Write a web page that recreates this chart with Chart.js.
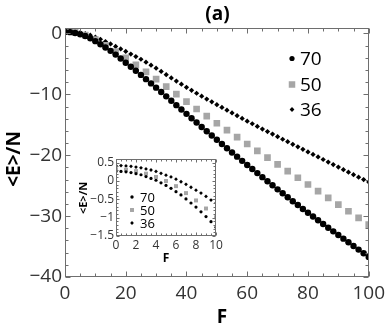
<!DOCTYPE html>
<html><head><meta charset="utf-8">
<script src="https://cdn.jsdelivr.net/npm/chart.js@4.4.1/dist/chart.umd.min.js"></script>
<style>
html,body{margin:0;padding:0;background:#fff;}
#wrap{position:relative;width:390px;height:336px;overflow:hidden;}
#main{position:absolute;left:0;top:0;}
#inset{position:absolute;left:70px;top:148px;}
</style></head><body>
<div id="wrap">
<canvas id="main" width="390" height="336"></canvas>
<canvas id="inset" width="156" height="125"></canvas>
</div>
<script>
// ---------------- data (main panel) ----------------
const seriesNames = ['70', '50', '36'];
const F_dense = [0,1.67,3.33,5,6.67,8.33,10,11.67,13.33,15,16.67,18.33,20,21.67,23.33,25,26.67,28.33,30,31.67,33.33,35,36.67,38.33,40,41.67,43.33,45,46.67,48.33,50,51.67,53.33,55,56.67,58.33,60,61.67,63.33,65,66.67,68.33,70,71.67,73.33,75,76.67,78.33,80,81.67,83.33,85,86.67,88.33,90,91.67,93.33,95,96.67,98.33,100];
const E_70 = [0.26,0.22,0.09,-0.12,-0.42,-0.80,-1.26,-1.77,-2.30,-2.85,-3.47,-4.12,-4.80,-5.47,-6.13,-6.80,-7.50,-8.20,-8.90,-9.62,-10.33,-11.05,-11.77,-12.48,-13.20,-13.92,-14.63,-15.35,-16.05,-16.75,-17.45,-18.15,-18.85,-19.55,-20.23,-20.92,-21.60,-22.27,-22.93,-23.60,-24.27,-24.93,-25.60,-26.25,-26.90,-27.55,-28.18,-28.82,-29.45,-30.07,-30.68,-31.30,-31.90,-32.50,-33.10,-33.70,-34.30,-34.90,-35.50,-36.10,-36.70];
const E_36 = [0.42,0.39,0.31,0.16,-0.03,-0.28,-0.60,-0.95,-1.33,-1.72,-2.12,-2.53,-2.95,-3.38,-3.80,-4.23,-4.72,-5.21,-5.70,-6.23,-6.77,-7.30,-7.82,-8.33,-8.85,-9.33,-9.82,-10.30,-10.77,-11.23,-11.70,-12.15,-12.60,-13.05,-13.50,-13.95,-14.40,-14.83,-15.27,-15.70,-16.12,-16.53,-16.95,-17.37,-17.78,-18.20,-18.62,-19.03,-19.45,-19.87,-20.28,-20.70,-21.12,-21.53,-21.95,-22.37,-22.78,-23.20,-23.60,-24.00,-24.40];
const F_sparse = [0,3.33,6.67,10,13.33,16.67,20,23.33,26.67,30,33.33,36.67,40,43.33,46.67,50,53.33,56.67,60,63.33,66.67,70,73.33,76.67,80,83.33,86.67,90,93.33,96.67,100];
const E_50 = [0.32,0.18,-0.26,-0.99,-1.95,-2.97,-4.00,-5.13,-6.30,-7.50,-8.73,-9.97,-11.20,-12.40,-13.58,-14.75,-15.88,-17.02,-18.15,-19.28,-20.40,-21.50,-22.60,-23.70,-24.80,-25.90,-27.00,-28.10,-29.20,-30.30,-31.40];
const xTickLabels = [0,20,40,60,80,100];
const yTickLabels = [0,-10,-20,-30,-40];

// ---------------- data (inset) ----------------
const Fi_fine = [0,0.5,1,1.5,2,2.5,3,3.5,4,4.5,5,5.5,6,6.5,7,7.5,8,8.5,9,9.5,10];
const Ei_70 = [0.26,0.26,0.25,0.23,0.20,0.17,0.12,0.07,0.02,-0.05,-0.12,-0.20,-0.29,-0.38,-0.49,-0.60,-0.71,-0.84,-0.97,-1.11,-1.26];
const Ei_36 = [0.42,0.42,0.41,0.40,0.38,0.36,0.33,0.30,0.26,0.21,0.16,0.11,0.05,-0.02,-0.09,-0.17,-0.25,-0.33,-0.42,-0.52,-0.60];
const Fi_coarse = [0,1,2,3,4,5,6,7,8,9,10];
const Ei_50 = [0.32,0.31,0.27,0.20,0.11,0.00,-0.14,-0.33,-0.53,-0.75,-0.99];
const xiTickLabels = [0,2,4,6,8,10];
const yiTickLabels = [0.5,0,-0.5,-1,-1.5];

// ---------------- styling ----------------
const BLACK = '#000000', GRAY = '#a6a6a6', FRAME = '#6e6e6e', TXT = '#333333';
const FONT = "'Open Sans', 'DejaVu Sans', sans-serif";
const fmt = v => (v < 0 ? '\u2212' + String(Math.abs(v)) : String(v));
const pts = (xs, ys) => xs.map((x, i) => ({x: x, y: ys[i]}));

function drawMarker(ctx, style, x, y, r, color) {
  ctx.fillStyle = color;
  ctx.beginPath();
  if (style === 'circle') ctx.arc(x, y, r, 0, Math.PI * 2);
  else if (style === 'rect') { const s = r * Math.SQRT1_2; ctx.rect(x - s, y - s, 2 * s, 2 * s); }
  else { ctx.moveTo(x - r, y); ctx.lineTo(x, y - r); ctx.lineTo(x + r, y); ctx.lineTo(x, y + r); ctx.closePath(); }
  ctx.fill();
}

function framePlugin(cfg) {
  return {
    id: 'frame_' + cfg.name,
    afterDraw(chart) {
      const {ctx, chartArea: a, scales: {x, y}} = chart;
      ctx.save();
      ctx.strokeStyle = FRAME; ctx.lineWidth = 1;
      const L = Math.round(a.left) + 0.5, R = Math.round(a.right) - 0.5;
      const T = Math.round(a.top) + 0.5, B = Math.round(a.bottom) - 0.5;
      ctx.strokeRect(L, T, R - L, B - T);
      ctx.beginPath();
      for (let i = 0; i <= cfg.xN; i++) {
        const v = cfg.x0 + i * cfg.xStep;
        const len = (i % cfg.xMajEvery === 0) ? cfg.maj : cfg.min;
        const px = Math.round(x.getPixelForValue(v)) + 0.5;
        ctx.moveTo(px, B); ctx.lineTo(px, B - len);
        ctx.moveTo(px, T); ctx.lineTo(px, T + len);
      }
      for (let i = 0; i <= cfg.yN; i++) {
        const v = cfg.y0 + i * cfg.yStep;
        const len = (i % cfg.yMajEvery === 0) ? cfg.maj : cfg.min;
        const py = Math.round(y.getPixelForValue(v)) + 0.5;
        ctx.moveTo(L, py); ctx.lineTo(L + len, py);
        ctx.moveTo(R, py); ctx.lineTo(R - len, py);
      }
      ctx.stroke();
      // texts & legend
      ctx.fillStyle = BLACK;
      cfg.texts.forEach(t => {
        ctx.save();
        ctx.font = t.font;
        ctx.textAlign = 'center'; ctx.textBaseline = 'middle';
        ctx.translate(t.x, t.y);
        if (t.rot) ctx.rotate(t.rot);
        ctx.fillStyle = BLACK;
        ctx.fillText(t.s, 0, 0);
        ctx.restore();
      });
      cfg.legend.items.forEach((it, k) => {
        const yy = cfg.legend.y[k];
        drawMarker(ctx, it.style, cfg.legend.mx, yy, it.r, it.color);
        ctx.font = cfg.legend.font; ctx.fillStyle = BLACK;
        ctx.textAlign = 'left'; ctx.textBaseline = 'middle';
        ctx.fillText(seriesNames[k], cfg.legend.tx, yy + 1);
      });
      ctx.restore();
    }
  };
}

function scaleOpts(min, max, labels, fit, fontSize, pad) {
  return {
    type: 'linear', min: min, max: max,
    afterBuildTicks: s => { s.ticks = labels.map(v => ({value: v})); },
    afterFit: fit,
    grid: {display: false, drawTicks: false},
    border: {display: false},
    ticks: {autoSkip: false, maxRotation: 0, padding: pad, color: TXT,
            font: {family: FONT, size: fontSize}, callback: v => fmt(v)}
  };
}

// ---------------- main chart ----------------
new Chart(document.getElementById('main'), {
  type: 'scatter',
  data: {datasets: [
    {label: seriesNames[0], data: pts(F_dense, E_70), pointStyle: 'circle', pointRadius: 3.2, backgroundColor: BLACK, pointBorderWidth: 0},
    {label: seriesNames[1], data: pts(F_sparse, E_50), pointStyle: 'rect', pointRadius: 4.7, backgroundColor: GRAY, pointBorderWidth: 0},
    {label: seriesNames[2], data: pts(F_dense, E_36), pointStyle: 'rectRot', pointRadius: 2.6, backgroundColor: BLACK, pointBorderWidth: 0}
  ]},
  options: {
    responsive: false, animation: false, devicePixelRatio: 1,
    layout: {padding: {left: 0, right: 20, top: 28, bottom: 0}},
    plugins: {legend: {display: false}, tooltip: {enabled: false}, title: {display: false}},
    scales: {
      x: scaleOpts(0, 100, xTickLabels, s => { s.height = 59; }, 19, 5),
      y: scaleOpts(-40, 0.9, yTickLabels, s => { s.width = 65; }, 19, 3)
    }
  },
  plugins: [framePlugin({
    name: 'main', x0: 0, xStep: 5, xN: 20, xMajEvery: 4, y0: -40, yStep: 2, yN: 20, yMajEvery: 5, maj: 5, min: 3,
    texts: [
      {s: '(a)', x: 217.5, y: 15, font: "bold 19px " + FONT},
      {s: 'F', x: 222, y: 318, font: "bold 19px " + FONT},
      {s: '<E>/N', x: 15, y: 159, rot: -Math.PI / 2, font: "bold 19px " + FONT}
    ],
    legend: {mx: 292, tx: 300, y: [58.5, 84.5, 109.5], font: "19px " + FONT,
      items: [{style: 'circle', r: 2.6, color: BLACK}, {style: 'rect', r: 4.6, color: GRAY}, {style: 'rectRot', r: 2.4, color: BLACK}]}
  })]
});

// ---------------- inset chart ----------------
new Chart(document.getElementById('inset'), {
  type: 'scatter',
  data: {datasets: [
    {label: seriesNames[0], data: pts(Fi_fine, Ei_70), pointStyle: 'circle', pointRadius: 1.6, backgroundColor: BLACK, pointBorderWidth: 0},
    {label: seriesNames[1], data: pts(Fi_coarse, Ei_50), pointStyle: 'rect', pointRadius: 2.8, backgroundColor: GRAY, pointBorderWidth: 0},
    {label: seriesNames[2], data: pts(Fi_fine, Ei_36), pointStyle: 'rectRot', pointRadius: 1.9, backgroundColor: BLACK, pointBorderWidth: 0}
  ]},
  options: {
    responsive: false, animation: false, devicePixelRatio: 1,
    layout: {padding: {left: 0, right: 10, top: 11, bottom: 0}},
    plugins: {legend: {display: false}, tooltip: {enabled: false}, title: {display: false}},
    scales: {
      x: scaleOpts(0, 10, xiTickLabels, s => { s.height = 37; }, 12, 2),
      y: scaleOpts(-1.5, 0.6, yiTickLabels, s => { s.width = 46; }, 12, 2)
    }
  },
  plugins: [framePlugin({
    name: 'inset', x0: 0, xStep: 0.5, xN: 20, xMajEvery: 4, y0: -1.5, yStep: 0.1, yN: 20, yMajEvery: 5, maj: 3, min: 2,
    texts: [
      {s: 'F', x: 96, y: 110.5, font: "bold 12px " + FONT},
      {s: '<E>/N', x: 13.5, y: 50, rot: -Math.PI / 2, font: "bold 11px " + FONT}
    ],
    legend: {mx: 62, tx: 70, y: [49, 62, 75], font: "13px " + FONT,
      items: [{style: 'circle', r: 1.7, color: BLACK}, {style: 'rect', r: 2.8, color: GRAY}, {style: 'rectRot', r: 1.9, color: BLACK}]}
  })]
});
</script>
</body></html>
